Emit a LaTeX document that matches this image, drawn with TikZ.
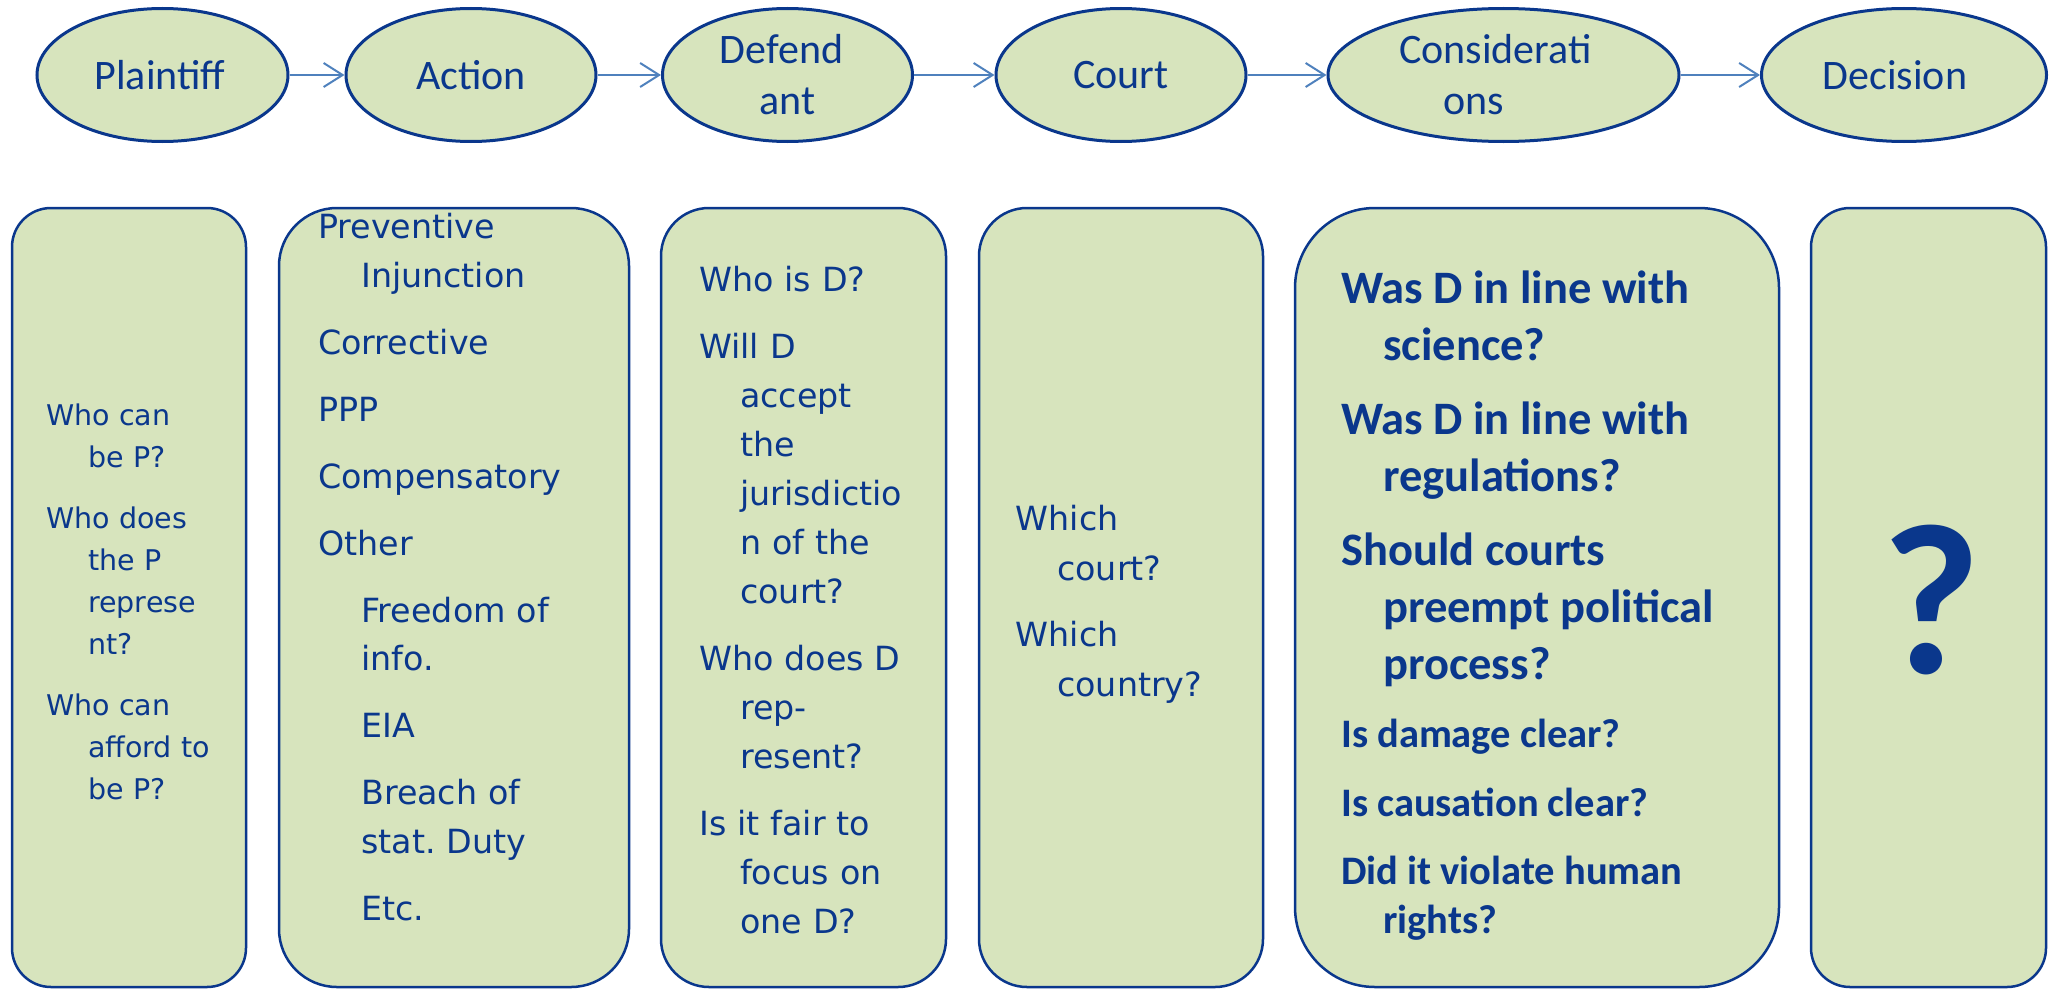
\documentclass[tikz,border=0pt]{standalone}
\usepackage{fontspec}
\newfontfamily\verd{DejaVu Sans}
\newfontfamily\cali{Carlito}
\usetikzlibrary{shapes.geometric,arrows.meta}
\definecolor{fillg}{RGB}{215,228,189}
\definecolor{navy}{RGB}{10,55,140}
\definecolor{arrowblue}{RGB}{79,129,189}
\newcommand{\hp}[2][42pt]{\hangindent=#1\hangafter=1\relax #2\par}
\newcommand{\lp}[2][43pt]{{\leftskip=#1\relax #2\par}}
\newcommand{\setsp}[1]{\spaceskip=#1\relax\xspaceskip=#1\relax\rightskip=0pt plus 1fil\relax}
\tikzset{
  oval/.style={ellipse, draw=navy, fill=fillg, line width=3pt, inner sep=0pt,
    minimum height=133pt, text=navy, font=\cali\fontsize{42}{51}\selectfont, align=center},
  panel/.style={draw=navy, fill=fillg, line width=2.5pt, minimum height=779pt, inner sep=0pt},
  ptext/.style={anchor=base west, inner sep=0pt, text=navy, text width=#1},
  link/.style={draw=arrowblue, line width=2pt, -{Straight Barb[length=19pt,width=24pt]}},
}
\begin{document}
\begin{tikzpicture}[x=1pt,y=-1pt]
\useasboundingbox (0,0) rectangle (2060,990);
% panels
\node[panel, minimum width=234pt, rounded corners=39pt] (pbox) at (129,597.5) {};
\node[panel, minimum width=350pt, rounded corners=58pt] (abox) at (454,597.5) {};
\node[panel, minimum width=285pt, rounded corners=48pt] (dbox) at (803.5,597.5) {};
\node[panel, minimum width=284pt, rounded corners=48pt] (cbox) at (1121,597.5) {};
\node[panel, minimum width=484pt, rounded corners=80pt] (kbox) at (1537,597.5) {};
\node[panel, minimum width=235pt, rounded corners=39pt] (xbox) at (1928.5,597.5) {};
% panel texts
\node[ptext=190pt] (ptxt) at (46,425.7) {\verd\fontsize{28.5}{42}\selectfont\setlength\parskip{19pt}\setsp{0.33em}%
\hp{Who can\newline be P?}
\hp{Who does\newline the P\newline represe\newline nt?}
\hp{Who can\newline afford to\newline be P?}};
\node[ptext=300pt] (atxt) at (318,238.5) {\verd\fontsize{33.3}{48.5}\selectfont\setlength\parskip{18.5pt}\setsp{0.33em}%
\hp[43pt]{Preventive\newline Injunction}
\hp{Corrective}
\hp{PPP}
\hp{Compensatory}
\hp{Other}
\lp{Freedom of\newline info.}
\lp{EIA}
\lp{Breach of\newline stat. Duty}
\lp{Etc.}};
\node[ptext=240pt] (dtxt) at (699,291) {\verd\fontsize{33.3}{49}\selectfont\setlength\parskip{18pt}\setsp{0.33em}%
\hp[41pt]{Who is D?}
\hp[41pt]{Will D\newline accept\newline the\newline jurisdictio\newline n of the\newline court?}
\hp[41pt]{Who does D\newline rep-\newline resent?}
\hp[41pt]{Is it fair to\newline focus on\newline one D?}};
\node[ptext=240pt] (ctxt) at (1015.5,530.8) {\verd\fontsize{33.3}{50}\selectfont\setlength\parskip{16pt}\setsp{0.33em}%
\hp[41.5pt]{Which\newline court?}
\hp[41.5pt]{Which\newline country?}};
\node[ptext=430pt] (ktxt) at (1341,303) {\cali\bfseries\fontsize{46.5}{57}\selectfont\setlength\parskip{17pt}\setsp{0.226em}%
\hp{Was D in line with\newline science?}
\hp{Was D in line with\newline regulations?}
\hp{Should courts\newline preempt political\newline process?}
\fontsize{40.5}{49}\selectfont\setlength\parskip{19.5pt}\setsp{0.226em}%
\hp{Is damage clear?}
\hp{Is causation clear?}
\hp{Did it violate human\newline rights?}};
\node[inner sep=0pt, text=navy, font=\cali\bfseries\fontsize{215}{215}\selectfont] (qm) at (1931,600) {?};
% ellipses
\node[oval, minimum width=251pt] (e1) at (162.5,75) {Plaintiff\hspace*{5pt}};
\node[oval, minimum width=250pt] (e2) at (471,75) {Action};
\node[oval, minimum width=250pt] (e3) at (787.5,75) {Defend\hspace*{12pt}\\ant};
\node[oval, minimum width=250pt] (e4) at (1121,75) {Court};
\node[oval, minimum width=351pt] (e5) at (1503.5,75) {Considerati\hspace*{16pt}\\ons\hspace*{60pt}};
\node[oval, minimum width=285pt] (e6) at (1904,75) {Decision\hspace*{18pt}};
% arrows
\draw[link] (e1) -- (e2);
\draw[link] (e2) -- (e3);
\draw[link] (e3) -- (e4);
\draw[link] (e4) -- (e5);
\draw[link] (e5) -- (e6);
\end{tikzpicture}
\end{document}
